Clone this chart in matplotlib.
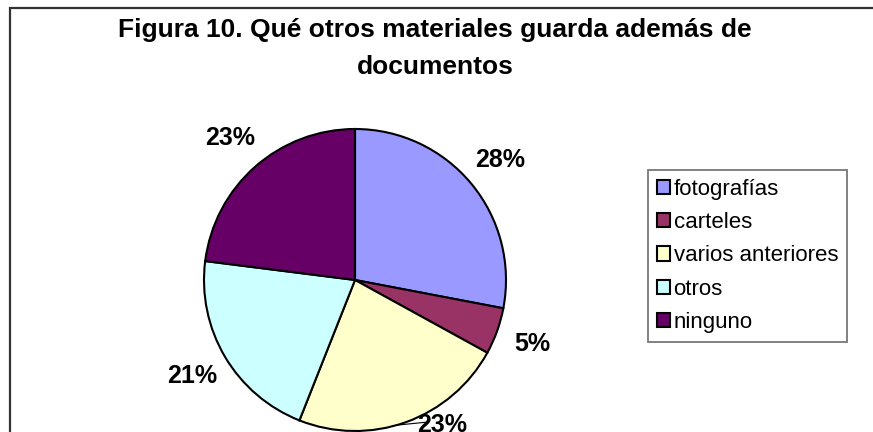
import matplotlib
matplotlib.use("Agg")
import matplotlib.pyplot as plt
from matplotlib.patches import Rectangle
import numpy as np

plt.rcParams['font.family'] = ['Liberation Sans', 'DejaVu Sans']

title = "Figura 10. Qué otros materiales guarda además de\ndocumentos"
categories = ["fotografías", "carteles", "varios anteriores", "otros", "ninguno"]
values = [28, 5, 23, 21, 23]
colors = ["#9999FF", "#993366", "#FFFFCC", "#CCFFFF", "#660066"]

W, H = 873, 432
fig = plt.figure(figsize=(W / 100, H / 100), dpi=100)
fig.patch.set_facecolor("white")

# outer frame (its right and bottom edges lie outside the picture)
fig.add_artist(Rectangle((9.5 / W, -0.05), 1.1, 1.05 - 8.5 / H,
                         transform=fig.transFigure, fill=False,
                         edgecolor="#333333", linewidth=1.6))

cx, cy, r = 355, 280, 151
ax = fig.add_axes([(cx - r) / W, (H - cy - r) / H, 2 * r / W, 2 * r / H])
wedges, texts, autotexts = ax.pie(
    values, colors=colors, startangle=90, counterclock=False,
    autopct=lambda p: f"{p:.0f}%", pctdistance=1.25, radius=1.0,
    wedgeprops=dict(edgecolor="black", linewidth=1.5),
    textprops=dict(fontsize=18, fontweight="bold", color="black"))
ax.set_xlim(-1, 1)
ax.set_ylim(-1, 1)
ax.set_aspect("equal")
ax.axis("off")

# bottom label (varios anteriores) is shifted with a short leader line
theta_lbl = np.deg2rad(-59)
lx, ly = 1.12 * np.cos(theta_lbl), 1.12 * np.sin(theta_lbl)
autotexts[2].set_position((lx, ly))
theta_edge = np.deg2rad(-74)
ex, ey = np.cos(theta_edge), np.sin(theta_edge)
ax.plot([ex, lx - 0.10], [ey, ey + 0.02], color="black", linewidth=0.8,
        clip_on=False)

fig.text(435 / W, 1 - 48.5 / H, title, ha="center", va="center",
         fontsize=19, fontweight="bold", linespacing=1.7)

leg = fig.legend(wedges, categories, loc="upper left",
                 bbox_to_anchor=(648 / W, 1 - 170 / H),
                 fontsize=16, frameon=True, fancybox=False, shadow=False,
                 handlelength=0.6, handleheight=0.6, handletextpad=0.15,
                 labelspacing=0.55, borderpad=0.4, borderaxespad=0)
leg.get_frame().set_edgecolor("#555555")
leg.get_frame().set_linewidth(1.3)
for h in leg.legend_handles:
    h.set_linewidth(1.5)

fig.savefig("out.png", dpi=100)
